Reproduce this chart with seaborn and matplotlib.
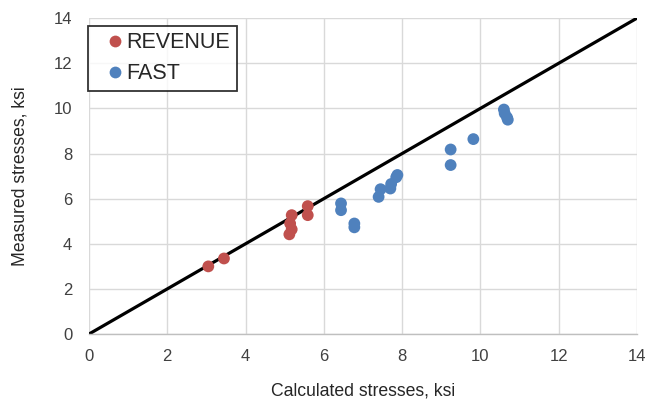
import numpy as np
import pandas as pd
import matplotlib
matplotlib.use("Agg")
import matplotlib.pyplot as plt
import seaborn as sns

# Calculated vs. measured stresses (ksi)
revenue_calc = [3.05, 3.45, 5.18, 5.14, 5.18, 5.12, 5.59, 5.59]
revenue_meas = [3.00, 3.35, 5.27, 4.90, 4.64, 4.42, 5.67, 5.27]

fast_calc = [6.44, 6.44, 6.78, 6.78, 7.40, 7.45, 7.70, 7.72, 7.85, 7.88,
             9.24, 9.24, 9.82, 10.60, 10.62, 10.68, 10.70]
fast_meas = [5.79, 5.49, 4.90, 4.73, 6.08, 6.42, 6.45, 6.65, 6.95, 7.05,
             8.18, 7.49, 8.64, 9.95, 9.78, 9.60, 9.50]

groups = ["REVENUE", "FAST"]
palette = {"REVENUE": "#C0504D", "FAST": "#4F81BD"}

df = pd.DataFrame({
    "calc": revenue_calc + fast_calc,
    "meas": revenue_meas + fast_meas,
    "group": ["REVENUE"] * len(revenue_calc) + ["FAST"] * len(fast_calc),
})

sns.set_style("white")
plt.rcParams["font.family"] = ["Liberation Sans", "DejaVu Sans"]

fig = plt.figure(figsize=(6.49, 4.03), dpi=100)
ax = fig.add_axes([0.137, 0.171, 0.8445, 0.784])

ax.set_xlim(0, 14)
ax.set_ylim(0, 14)
ticks = np.arange(0, 15, 2)
ax.set_xticks(ticks)
ax.set_yticks(ticks)
ax.grid(True, color="#d9d9d9", linewidth=1.0)
ax.set_axisbelow(True)

# 1:1 reference line
ax.plot([0, 14], [0, 14], color="black", linewidth=2.3, zorder=2)

sns.scatterplot(data=df, x="calc", y="meas", hue="group", hue_order=groups,
                palette=palette, s=72, linewidth=0, ax=ax, zorder=3)

for side in ["top", "right", "left"]:
    ax.spines[side].set_visible(False)
ax.spines["bottom"].set_color("#bfbfbf")
ax.spines["bottom"].set_linewidth(1.0)

ax.tick_params(axis="both", length=0, labelsize=12, colors="#404040")
ax.tick_params(axis="y", pad=12)
ax.tick_params(axis="x", pad=11)
ax.set_xlabel("Calculated stresses, ksi", fontsize=12.7, color="#262626", labelpad=13)
ax.set_ylabel("Measured stresses, ksi", fontsize=12.7, color="#262626", labelpad=18)

leg = ax.legend(title=None, loc="upper left",
                bbox_to_anchor=(88 / 649, 1 - 26 / 403),
                bbox_transform=fig.transFigure, borderaxespad=0,
                fontsize=15.5, frameon=True, fancybox=False,
                handletextpad=-0.4, borderpad=0.3, labelspacing=0.45,
                markerscale=1.0, handlelength=1.9)
leg.get_frame().set_edgecolor("black")
leg.get_frame().set_linewidth(1.3)

fig.savefig("out.png", dpi=100)
